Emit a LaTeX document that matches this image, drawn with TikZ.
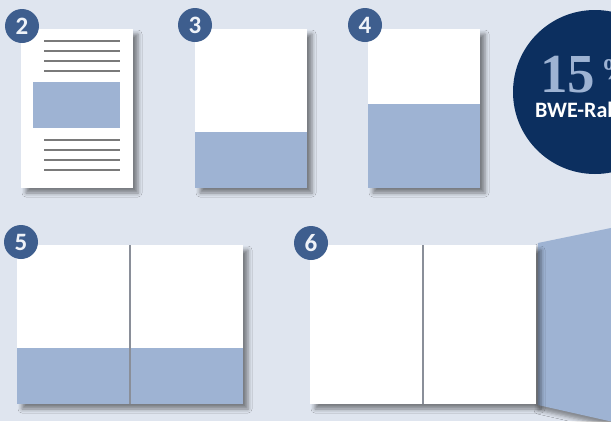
\documentclass[tikz,border=0pt]{standalone}
\usepackage{fontspec}
\setmainfont{Carlito}
\newfontfamily\numserif{Liberation Serif}
\usetikzlibrary{shadows.blur}
\definecolor{bgc}{HTML}{DFE5EF}
\definecolor{pblue}{HTML}{9EB3D3}
\definecolor{badgec}{HTML}{3E5E8E}
\definecolor{navy}{HTML}{0C2F5F}
\definecolor{linec}{HTML}{7A7A7A}
\definecolor{gapc}{HTML}{8A8F99}
\definecolor{digitc}{HTML}{EEF2F8}
\tikzset{
  pagebox/.style={fill=white, draw=none, blur shadow={shadow xshift=5pt, shadow yshift=-5pt, shadow blur radius=4pt, shadow opacity=45}},
  bluepart/.style={fill=pblue, draw=none},
  textline/.style={draw=linec, line width=1.2pt},
  badge/.style={circle, fill=badgec, minimum size=34pt, inner sep=0pt, text=digitc, font=\bfseries\fontsize{25}{25}\selectfont},
  gapline/.style={draw=gapc, line width=1.8pt},
}
\begin{document}
\begin{tikzpicture}[x=1pt,y=-1pt]
\useasboundingbox (0,0) rectangle (611,421);
\fill[bgc] (0,0) rectangle (611,421);
\begin{scope}
\clip (0,0) rectangle (611,421);
% circle
\fill[navy] (595,92) circle (82);
\node[anchor=base west, inner sep=0pt, text=pblue, font=\numserif\bfseries\fontsize{55}{55}\selectfont] (pct) at (540,92) {15\hspace{6pt}\raisebox{13pt}{\fontsize{30}{30}\selectfont\%}};
\node[anchor=base west, inner sep=0pt, text=white, font=\bfseries\fontsize{22}{22}\selectfont] (bwe) at (535,117) {BWE-Rabatt};
% flap
\path[bluepart, blur shadow={shadow xshift=0pt, shadow yshift=-5pt, shadow blur radius=4pt, shadow opacity=40}] (538,243) -- (640,222) -- (640,428) -- (538,405) -- cycle;
\end{scope}

% page 2
\path[pagebox] (21,29) rectangle (133,188);
\path[bluepart] (33,82) rectangle (120,128);
\foreach \yy in {41,51,61,71,140,150,160,170} \draw[textline] (44,\yy) -- (120,\yy);
\node[badge] (b2) at (22,26) {2};

% page 3
\path[pagebox] (195,29) rectangle (307,188);
\path[bluepart] (195,132) rectangle (307,188);
\node[badge] (b3) at (195,25) {3};

% page 4
\path[pagebox] (368,29) rectangle (480,188);
\path[bluepart] (368,104) rectangle (480,188);
\node[badge] (b4) at (365,25) {4};

% page 5
\path[pagebox] (17,245) rectangle (243,404);
\path[bluepart] (17,348) rectangle (243,404);
\draw[gapline] (130,245) -- (130,404);
\node[badge] (b5) at (21,242) {5};

% page 6
\path[pagebox] (310,245) rectangle (536,404);
\draw[gapline] (423,245) -- (423,404);
\node[badge] (b6) at (311,243) {6};
\end{tikzpicture}
\end{document}
